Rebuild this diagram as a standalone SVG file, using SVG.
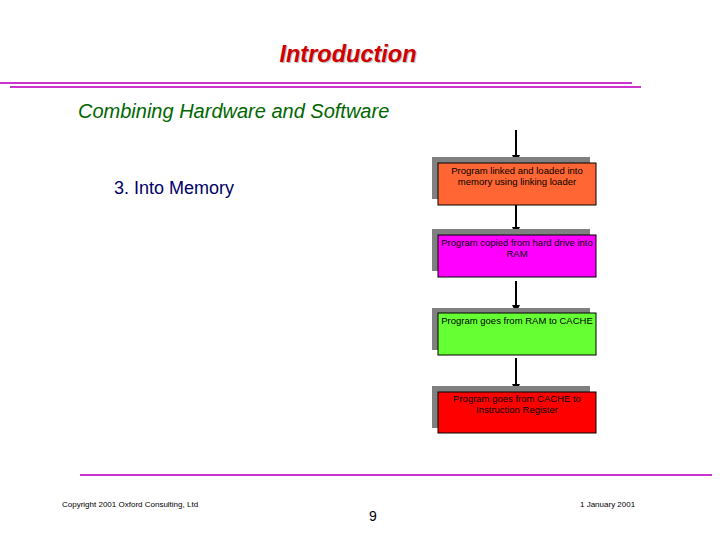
<svg xmlns="http://www.w3.org/2000/svg" width="720" height="540" viewBox="0 0 720 540">
<style>
.sh{fill:#808080}
.bx{stroke:#000;stroke-width:1}
.bt{font-family:"Liberation Sans",Arial,sans-serif;font-size:9.5px;text-anchor:middle;fill:#000}
.c{stroke:#000;stroke-width:2;fill:none;marker-end:url(#ah)}
.ft{font-family:"Liberation Sans",Arial,sans-serif;font-size:8px;fill:#000}
</style>
<defs><marker id="ah" markerWidth="8" markerHeight="8" refX="7" refY="4" orient="auto" markerUnits="userSpaceOnUse"><path d="M0,0L8,4L0,8z" fill="#000"/></marker></defs>
<rect width="720" height="540" fill="#fff"/>
<text x="349" y="63" font-family="Liberation Sans,Arial,sans-serif" font-size="23.5" font-style="italic" font-weight="bold" fill="#808080" text-anchor="middle" opacity="0.5">Introduction</text>
<text x="348" y="62" font-family="Liberation Sans,Arial,sans-serif" font-size="23.5" font-style="italic" font-weight="bold" fill="#d00000" text-anchor="middle">Introduction</text>
<line x1="0" y1="83" x2="632" y2="83" stroke="#cc33cc" stroke-width="2"/>
<line x1="10" y1="87" x2="641" y2="87" stroke="#cc33cc" stroke-width="2"/>
<text x="78" y="118" font-family="Liberation Sans,Arial,sans-serif" font-size="20" font-style="italic" fill="#006600">Combining Hardware and Software</text>
<text x="114" y="194" font-family="Liberation Sans,Arial,sans-serif" font-size="18" fill="#000066">3.  Into Memory</text>
<g id="connectors">
<line class="c" x1="516" y1="130" x2="516" y2="162"/>
<line class="c" x1="516" y1="205" x2="516" y2="234"/>
<line class="c" x1="516" y1="281" x2="516" y2="312"/>
<line class="c" x1="516" y1="358" x2="516" y2="391"/>
</g>
<g id="n1"><rect class="sh" x="432" y="157" width="158" height="42"/><rect class="bx" x="438" y="163" width="158" height="42" fill="#ff6633"/>
<text class="bt" x="517" y="174">Program linked and loaded into</text><text class="bt" x="517" y="185">memory using linking loader</text></g>
<g id="n2"><rect class="sh" x="432" y="229" width="158" height="42"/><rect class="bx" x="438" y="235" width="158" height="42" fill="#ff00ff"/>
<text class="bt" x="517" y="246">Program copied from hard drive into</text><text class="bt" x="517" y="257">RAM</text></g>
<g id="n3"><rect class="sh" x="432" y="308" width="158" height="42"/><rect class="bx" x="438" y="313" width="158" height="42" fill="#66ff33"/>
<text class="bt" x="517" y="324">Program goes from RAM to CACHE</text></g>
<g id="n4"><rect class="sh" x="432" y="386" width="158" height="42"/><rect class="bx" x="438" y="392" width="158" height="41" fill="#ff0000"/>
<text class="bt" x="517" y="402">Program goes from CACHE to</text><text class="bt" x="517" y="413">Instruction Register</text></g>
<line x1="80" y1="475" x2="712" y2="475" stroke="#cc33cc" stroke-width="2"/>
<text class="ft" x="62" y="507">Copyright 2001 Oxford Consulting, Ltd</text>
<text class="ft" x="580" y="507">1 January 2001</text>
<text x="373" y="521" font-family="Liberation Sans,Arial,sans-serif" font-size="14" text-anchor="middle">9</text>
</svg>
